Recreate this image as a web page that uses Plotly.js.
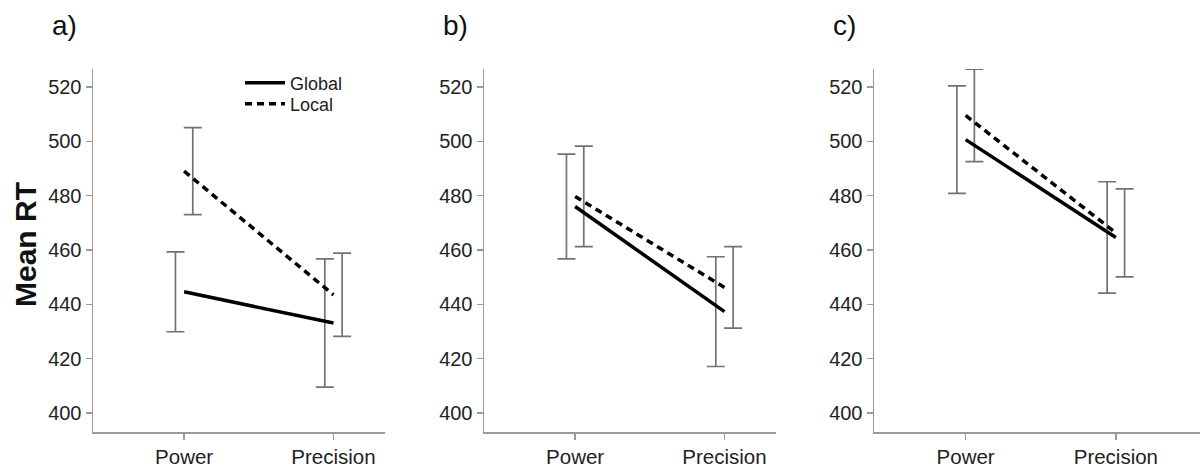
<!DOCTYPE html>
<html>
<head>
<meta charset="utf-8">
<script src="https://cdn.plot.ly/plotly-3.0.1.min.js"></script>
<style>html,body{margin:0;padding:0;background:#fff;}#chart{width:1200px;height:468px;}</style>
</head>
<body>
<div id="chart"></div>
<script>
// ---- data ----
const categories = ["Power", "Precision"];
const panelLabels = ["a)", "b)", "c)"];
const seriesNames = ["Global", "Local"];
const yTicks = [400, 420, 440, 460, 480, 500, 520];

const globalA = [444.6, 433.1];
const globalErrA = [14.7, 23.6];
const localA = [489.0, 443.5];
const localErrA = [16.0, 15.3];

const globalB = [476.0, 437.3];
const globalErrB = [19.3, 20.2];
const localB = [479.7, 446.2];
const localErrB = [18.5, 15.0];

const globalC = [500.6, 464.6];
const globalErrC = [19.8, 20.5];
const localC = [509.5, 466.3];
const localErrC = [17.0, 16.2];

// ---- build ----
const panels = [
  {g: globalA, ge: globalErrA, l: localA, le: localErrA},
  {g: globalB, ge: globalErrB, l: localB, le: localErrB},
  {g: globalC, ge: globalErrC, l: localC, le: localErrC}
];
const idx = categories.map((c, i) => i);
const dodge = 0.058;
const FONT = "Liberation Sans, Arial, sans-serif";
const errStyle = {type: "data", color: "#727272", thickness: 1.7, width: 9};

const traces = [];
panels.forEach((p, k) => {
  const xa = k === 0 ? "x" : "x" + (k + 1);
  const ya = k === 0 ? "y" : "y" + (k + 1);
  traces.push({x: idx.map(i => i - dodge), y: p.g, xaxis: xa, yaxis: ya, mode: "markers",
    marker: {size: 1, opacity: 0}, error_y: Object.assign({array: p.ge}, errStyle),
    showlegend: false, hoverinfo: "skip", cliponaxis: false});
  traces.push({x: idx.map(i => i + dodge), y: p.l, xaxis: xa, yaxis: ya, mode: "markers",
    marker: {size: 1, opacity: 0}, error_y: Object.assign({array: p.le}, errStyle),
    showlegend: false, hoverinfo: "skip", cliponaxis: false});
  traces.push({x: idx, y: p.g, xaxis: xa, yaxis: ya, mode: "lines", name: seriesNames[0],
    line: {color: "#000", width: 3.5}, showlegend: k === 0, legend: "legend"});
  traces.push({x: idx, y: p.l, xaxis: xa, yaxis: ya, mode: "lines", name: seriesNames[1],
    line: {color: "#000", width: 3.5, dash: "7px,5px"}, showlegend: k === 0, legend: "legend2"});
});

const W = 1200, H = 468;
const doms = [[93, 385], [484, 776], [874, 1200]];
const yDom = [1 - 432 / H, 1 - 69 / H];
const xRanges = [[-0.61, 1.345], [-0.61, 1.345], [-0.61, 1.56]];

const legendBase = {xanchor: "left", yanchor: "middle", bgcolor: "rgba(0,0,0,0)",
  font: {family: FONT, size: 18, color: "#222"}, itemwidth: 40};

const layout = {
  width: W, height: H,
  margin: {l: 0, r: 0, t: 0, b: 0},
  paper_bgcolor: "#fff", plot_bgcolor: "#fff",
  font: {family: FONT, color: "#222"},
  showlegend: true,
  legend: Object.assign({x: 240 / W, y: 1 - 83 / H}, legendBase),
  legend2: Object.assign({x: 240 / W, y: 1 - 104 / H}, legendBase),
  annotations: [],
  hovermode: false
};

panels.forEach((p, k) => {
  const sfx = k === 0 ? "" : String(k + 1);
  layout["xaxis" + sfx] = {
    domain: [doms[k][0] / W, doms[k][1] / W], range: xRanges[k],
    anchor: "y" + sfx, tickvals: idx, ticktext: categories,
    showline: true, linecolor: "#9a9a9a", linewidth: 1.5, showgrid: false, zeroline: false,
    ticks: "outside", ticklen: 6, tickwidth: 1.5, tickcolor: "#9a9a9a",
    tickfont: {family: FONT, size: 20.5, color: "#222"}, fixedrange: true
  };
  layout["yaxis" + sfx] = {
    domain: yDom, range: [393, 526.6], anchor: "x" + sfx, tickvals: yTicks,
    showline: true, linecolor: "#9a9a9a", linewidth: 1.5, showgrid: false, zeroline: false,
    ticks: "outside", ticklen: 6, tickwidth: 1.5, tickcolor: "#9a9a9a",
    tickfont: {family: FONT, size: 20, color: "#222"}, fixedrange: true
  };
  layout.annotations.push({text: panelLabels[k], xref: "paper", yref: "paper",
    x: [50, 441, 831][k] / W, y: 1 - 25 / H, xanchor: "left", yanchor: "middle",
    showarrow: false, font: {family: FONT, size: 28, color: "#111"}});
});
layout.annotations.push({text: "<b>Mean RT</b>", xref: "paper", yref: "paper",
  x: 25 / W, y: 1 - 245 / H, xanchor: "center", yanchor: "middle", textangle: -90,
  showarrow: false, font: {family: FONT, size: 30, color: "#111"}});

Plotly.newPlot("chart", traces, layout, {displayModeBar: false, staticPlot: true});
</script>
</body>
</html>
